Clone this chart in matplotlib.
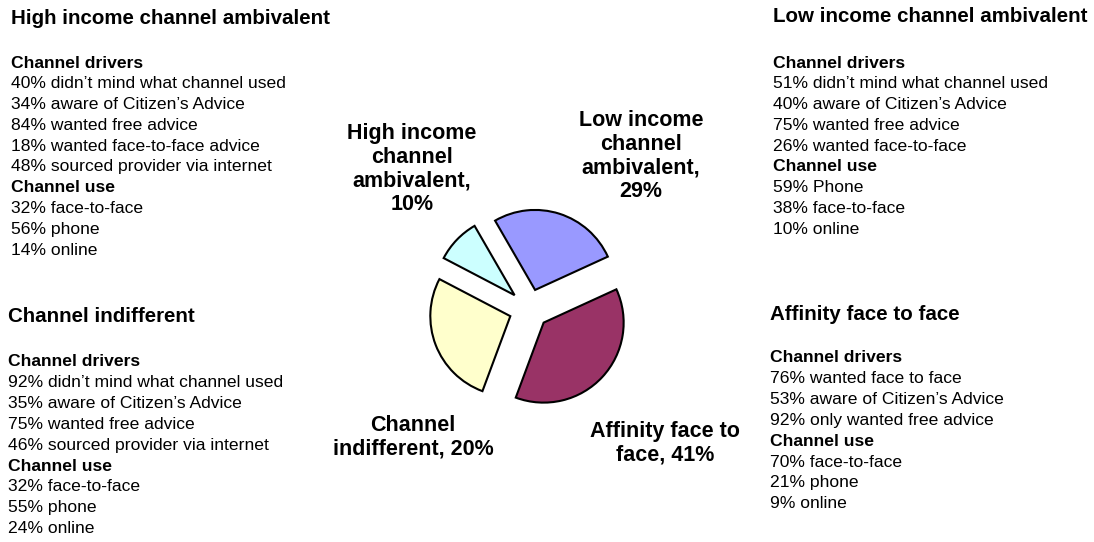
import matplotlib
matplotlib.use("Agg")
import matplotlib.pyplot as plt

plt.rcParams.update({
    "font.family": ["Liberation Sans", "DejaVu Sans"],
})

W, H = 1094, 542

# ---------------------------------------------------------
#  Data
# ---------------------------------------------------------
segments = ["Low income channel ambivalent", "Affinity face to face",
            "Channel indifferent", "High income channel ambivalent"]
# slice sizes as drawn in the picture (share of the circle)
slice_sizes = [26.5, 37.5, 27.0, 9.0]
# percentages printed in the labels
label_pcts = [29, 41, 20, 10]
slice_colors = ["#9999FF", "#993366", "#FFFFCC", "#CCFFFF"]

high_drivers = ["40% didn\u2019t mind what channel used",
                "34% aware of Citizen\u2019s Advice",
                "84% wanted free advice",
                "18% wanted face-to-face advice",
                "48% sourced provider via internet"]
high_use = ["32% face-to-face", "56% phone", "14% online"]

low_drivers = ["51% didn\u2019t mind what channel used",
               "40% aware of Citizen\u2019s Advice",
               "75% wanted free advice",
               "26% wanted face-to-face"]
low_use = ["59% Phone", "38% face-to-face", "10% online"]

indiff_drivers = ["92% didn\u2019t mind what channel used",
                  "35% aware of Citizen\u2019s Advice",
                  "75% wanted free advice",
                  "46% sourced provider via internet"]
indiff_use = ["32% face-to-face", "55% phone", "24% online"]

aff_drivers = ["76% wanted face to face",
               "53% aware of Citizen\u2019s Advice",
               "92% only wanted free advice"]
aff_use = ["70% face-to-face", "21% phone", "9% online"]

fig = plt.figure(figsize=(W / 100, H / 100), dpi=100)
fig.patch.set_facecolor("white")


def px(x, y):
    return x / W, 1 - y / H


# ---------------------------------------------------------
#  Pie (centre ~ (529, 309) px, radius 80 px)
# ---------------------------------------------------------
cx, cy, half = 529, 309, 100
ax = fig.add_axes([(cx - half) / W, (H - cy - half) / H, 2 * half / W, 2 * half / H])
ax.pie(slice_sizes, colors=slice_colors, startangle=120, counterclock=False,
       explode=[0.25] * 4, radius=1.0,
       wedgeprops=dict(edgecolor="black", linewidth=1.5))
ax.set_xlim(-1.25, 1.25)
ax.set_ylim(-1.25, 1.25)
ax.set_aspect("equal")
ax.axis("off")

# ---------------------------------------------------------
#  Slice labels
# ---------------------------------------------------------
LBL = 15.5
slice_label_text = [
    "Low income\nchannel\nambivalent,\n%d%%" % label_pcts[0],
    "Affinity face to\nface, %d%%" % label_pcts[1],
    "Channel\nindifferent, %d%%" % label_pcts[2],
    "High income\nchannel\nambivalent,\n%d%%" % label_pcts[3],
]
slice_label_pos = [(641, 156), (665, 443), (413, 437), (412, 169)]
for txt, (x, y) in zip(slice_label_text, slice_label_pos):
    fig.text(*px(x, y), txt, ha="center", va="center", multialignment="center",
             fontsize=LBL, fontweight="bold", linespacing=1.17, color="black")

# ---------------------------------------------------------
#  Side text blocks
# ---------------------------------------------------------
TITLE_FS = 14.8
BODY_FS = 12.6


def text_block(x, y_title, y_drivers, title, drivers, use, step=20.8):
    fig.text(*px(x, y_title), title, ha="left", va="center",
             fontsize=TITLE_FS, fontweight="bold")
    y = y_drivers
    fig.text(*px(x, y), "Channel drivers", ha="left", va="center",
             fontsize=BODY_FS, fontweight="bold")
    for line in drivers:
        y += step
        fig.text(*px(x, y), line, ha="left", va="center", fontsize=BODY_FS)
    y += step
    fig.text(*px(x, y), "Channel use", ha="left", va="center",
             fontsize=BODY_FS, fontweight="bold")
    for line in use:
        y += step
        fig.text(*px(x, y), line, ha="left", va="center", fontsize=BODY_FS)


text_block(11, 19, 63, segments[3], high_drivers, high_use)
text_block(773, 17, 63, segments[0], low_drivers, low_use)
text_block(8, 317, 362, segments[2], indiff_drivers, indiff_use)
text_block(770, 314, 358, segments[1], aff_drivers, aff_use)

fig.savefig("out.png", dpi=100, facecolor="white")
